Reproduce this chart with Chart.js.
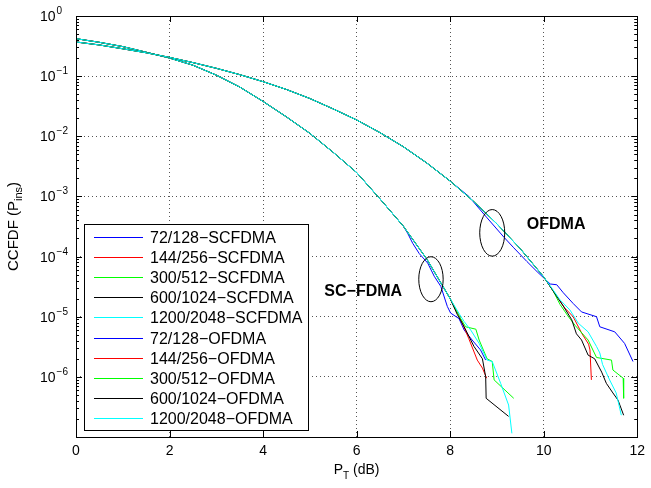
<!DOCTYPE html>
<html lang="en">
<head>
    <meta charset="UTF-8">
    <title>CCDF SC-FDMA vs OFDMA</title>
    <script src="https://cdn.jsdelivr.net/npm/chart.js"></script>
    <style>
        html, body { margin: 0; padding: 0; background: #fff; }
        #wrap { width: 651px; height: 488px; }
    </style>
</head>
<body>
    <div id="wrap"><canvas id="ccdfChart" width="651" height="488"></canvas></div>

    <script>
        // labels / colours (MATLAB b, r, g, k, c)
        const sizes = ['72/128', '144/256', '300/512', '600/1024', '1200/2048'];
        const colors = ['#0000ff', '#ff0000', '#00ff00', '#000000', '#00ffff'];

        // y axis decades and x ticks
        const yTickExp = [0, -1, -2, -3, -4, -5, -6, -7];
        const yLabelExp = [0, -1, -2, -3, -4, -5, -6];
        const xTicks = [0, 2, 4, 6, 8, 10, 12];

        // SC-FDMA, part where the five curves lie on top of each other
        const scX = [0, 0.5, 1, 1.5, 2, 2.5, 3, 3.5, 4, 4.5, 5, 5.5, 6, 6.5, 7, 7.5, 8];
        const scY = [0.42, 0.365, 0.31, 0.25, 0.2, 0.152, 0.104, 0.066, 0.038, 0.021, 0.0112, 0.0054, 0.0025, 9.1e-4, 3.2e-4, 9.1e-5, 2e-5];
        // tails (blue leaves the bundle after x = 7)
        const scTailX = [
            [7.09, 7.2, 7.34, 7.52, 7.66, 7.8, 7.94, 8.01, 8.19, 8.3, 8.47, 8.65, 8.76],
            [8.2, 8.4, 8.58, 8.69, 8.78],
            [8.2, 8.33, 8.55, 8.62, 8.79, 8.9, 8.94, 9.36],
            [8.15, 8.3, 8.51, 8.69, 8.76, 8.77, 9.25],
            [8.2, 8.3, 8.44, 8.62, 8.79, 8.9, 9.08, 9.25, 9.32]
        ];
        const scTailY = [
            [2.45e-4, 1.66e-4, 1.12e-4, 7.8e-5, 4.7e-5, 3.2e-5, 1.48e-5, 1.15e-5, 9.3e-6, 6.0e-6, 4.1e-6, 2.8e-6, 1.9e-6],
            [1.0e-5, 4.3e-6, 1.9e-6, 1.4e-6, 9.5e-7],
            [1.0e-5, 6.8e-6, 6.2e-6, 4.1e-6, 2.0e-6, 1.8e-6, 8.9e-7, 4.4e-7],
            [1.1e-5, 6.8e-6, 3.2e-6, 2.0e-6, 1.0e-6, 4.4e-7, 2.2e-7],
            [1.1e-5, 8.3e-6, 6.0e-6, 3.6e-6, 1.9e-6, 1.8e-6, 7.8e-7, 3.4e-7, 1.15e-7]
        ];
        const scCut = [15, 17, 17, 17, 17]; // how many shared points each curve uses

        // OFDMA, shared part
        const ofX = [0, 0.5, 1, 1.5, 2, 2.5, 3, 3.5, 4, 4.5, 5, 5.5, 6, 6.5, 7, 7.5, 8, 8.5, 9, 9.5, 10];
        const ofY = [0.37, 0.33, 0.285, 0.245, 0.205, 0.168, 0.135, 0.106, 0.081, 0.06, 0.0425, 0.0285, 0.0187, 0.0115, 0.0067, 0.0036, 0.0018, 8.3e-4, 3.5e-4, 1.35e-4, 4.6e-5];
        const ofTailX = [
            [8.4, 8.79, 9.15, 9.36, 9.64, 9.86, 10.14, 10.28, 10.42, 10.63, 10.81, 11.13, 11.2, 11.52, 11.73, 11.91],
            [10.2, 10.45, 10.63, 10.82, 10.96, 10.99, 11.02],
            [10.2, 10.35, 10.53, 10.67, 10.95, 11.13, 11.45, 11.48, 11.7, 11.71],
            [10.2, 10.42, 10.6, 10.7, 10.81, 10.95, 11.09, 11.24, 11.34, 11.48, 11.59, 11.71],
            [10.2, 10.35, 10.56, 10.74, 10.95, 11.13, 11.2, 11.26, 11.41, 11.55, 11.66]
        ];
        const ofTailY = [
            [1.0e-3, 4.4e-4, 2.1e-4, 1.4e-4, 8.3e-5, 5.6e-5, 3.5e-5, 3.4e-5, 2.5e-5, 1.66e-5, 1.2e-5, 1.0e-5, 6.8e-6, 5.6e-6, 3.6e-6, 1.8e-6],
            [2.7e-5, 1.4e-5, 1.0e-5, 5.2e-6, 3.5e-6, 2.8e-6, 8.9e-7],
            [2.7e-5, 1.6e-5, 1.0e-5, 7.2e-6, 4.1e-6, 2.1e-6, 1.9e-6, 1.3e-6, 9.5e-7, 4.4e-7],
            [2.7e-5, 1.5e-5, 8.9e-6, 5.2e-6, 4.1e-6, 2.3e-6, 2.0e-6, 1.2e-6, 7.8e-7, 5.4e-7, 4.1e-7, 2.3e-7],
            [2.8e-5, 1.9e-5, 1.3e-5, 7.8e-6, 5.6e-6, 3.2e-6, 2.5e-6, 1.6e-6, 8.9e-7, 5.4e-7, 2.3e-7]
        ];
        const ofCut = [17, 21, 21, 21, 21];

        // annotations (data coords)
        const ellipses = [
            { x: 7.59, y: 4.2e-5, rx: 12.2, ry: 22.5 },
            { x: 8.9, y: 2.48e-4, rx: 12.5, ry: 23.3 }
        ];
        const notes = [
            { text: 'SC\u2212FDMA', x: 5.31, y: 2.2e-5 },
            { text: 'OFDMA', x: 9.64, y: 2.9e-4 }
        ];

        const FONT = '"Liberation Sans", Arial, Helvetica, sans-serif';

        function buildSeries(hx, hy, cut, tx, ty) {
            const pts = [];
            for (let i = 0; i < cut; i++) pts.push({ x: hx[i], y: hy[i] });
            for (let i = 0; i < tx.length; i++) pts.push({ x: tx[i], y: ty[i] });
            return pts;
        }

        const datasets = [];
        sizes.forEach((s, i) => {
            datasets.push({ label: s + '\u2212SCFDMA', data: buildSeries(scX, scY, scCut[i], scTailX[i], scTailY[i]), borderColor: colors[i] });
        });
        sizes.forEach((s, i) => {
            datasets.push({ label: s + '\u2212OFDMA', data: buildSeries(ofX, ofY, ofCut[i], ofTailX[i], ofTailY[i]), borderColor: colors[i] });
        });
        // later series drawn on top, like MATLAB
        datasets.forEach((d, i) => { d.order = datasets.length - i; });

        // frame, inner ticks, legend, labels
        const matlabAxes = {
            id: 'matlabAxes',
            afterDraw(chart) {
                const ctx = chart.ctx;
                const a = chart.chartArea;
                const xs = chart.scales.x, ys = chart.scales.y;
                ctx.save();
                ctx.strokeStyle = '#000';
                ctx.lineWidth = 1;

                // ticks pointing inward
                ctx.beginPath();
                xTicks.forEach(v => {
                    const px = Math.round(xs.getPixelForValue(v)) + 0.5;
                    ctx.moveTo(px, a.bottom); ctx.lineTo(px, a.bottom - 6);
                    ctx.moveTo(px, a.top); ctx.lineTo(px, a.top + 6);
                });
                yTickExp.forEach(e => {
                    const py = Math.round(ys.getPixelForValue(Math.pow(10, e))) + 0.5;
                    ctx.moveTo(a.left, py); ctx.lineTo(a.left + 6, py);
                    ctx.moveTo(a.right, py); ctx.lineTo(a.right - 6, py);
                    if (e > -7) {
                        for (let m = 2; m <= 9; m++) {
                            const q = Math.round(ys.getPixelForValue(m * Math.pow(10, e - 1))) + 0.5;
                            ctx.moveTo(a.left, q); ctx.lineTo(a.left + 3, q);
                            ctx.moveTo(a.right, q); ctx.lineTo(a.right - 3, q);
                        }
                    }
                });
                ctx.stroke();

                // box
                ctx.strokeRect(Math.round(a.left) + 0.5, Math.round(a.top) + 0.5,
                    Math.round(a.right - a.left), Math.round(a.bottom - a.top));

                // y tick labels 10^n
                ctx.fillStyle = '#000';
                ctx.textBaseline = 'alphabetic';
                ctx.textAlign = 'left';
                yLabelExp.forEach(e => {
                    const py = ys.getPixelForValue(Math.pow(10, e));
                    ctx.font = '14px ' + FONT;
                    ctx.fillText('10', 40, py + 5);
                    const w = ctx.measureText('10').width;
                    ctx.font = '10px ' + FONT;
                    ctx.fillText(e < 0 ? '\u2212' + (-e) : String(e), 40 + w + 1, py - 2);
                });

                // x title  P_T (dB)
                ctx.font = '14px ' + FONT;
                const wP = ctx.measureText('P').width;
                const wR = ctx.measureText(' (dB)').width;
                ctx.font = '10px ' + FONT;
                const wT = ctx.measureText('T').width;
                let x0 = (a.left + a.right) / 2 - (wP + wT + wR) / 2;
                ctx.font = '14px ' + FONT;
                ctx.fillText('P', x0, 474);
                ctx.font = '10px ' + FONT;
                ctx.fillText('T', x0 + wP, 479);
                ctx.font = '14px ' + FONT;
                ctx.fillText(' (dB)', x0 + wP + wT, 474);

                // y title  CCFDF (P_ins)
                ctx.save();
                ctx.translate(18, (a.top + a.bottom) / 2);
                ctx.rotate(-Math.PI / 2);
                ctx.font = '15px ' + FONT;
                const w1 = ctx.measureText('CCFDF (P').width;
                const w3 = ctx.measureText(')').width;
                ctx.font = '11px ' + FONT;
                const w2 = ctx.measureText('ins').width;
                let s0 = -(w1 + w2 + w3) / 2;
                ctx.font = '15px ' + FONT;
                ctx.fillText('CCFDF (P', s0, 0);
                ctx.font = '11px ' + FONT;
                ctx.fillText('ins', s0 + w1, 4);
                ctx.font = '15px ' + FONT;
                ctx.fillText(')', s0 + w1 + w2, 0);
                ctx.restore();

                // ellipses and group names
                ellipses.forEach(el => {
                    ctx.beginPath();
                    ctx.ellipse(xs.getPixelForValue(el.x), ys.getPixelForValue(el.y), el.rx, el.ry, 0, 0, 2 * Math.PI);
                    ctx.stroke();
                });
                ctx.font = 'bold 16px ' + FONT;
                notes.forEach(n => ctx.fillText(n.text, xs.getPixelForValue(n.x), ys.getPixelForValue(n.y)));

                // legend box
                const lx = 84, ly = 224, lw = 224, lh = 206;
                ctx.fillStyle = '#fff';
                ctx.fillRect(lx, ly, lw, lh);
                ctx.strokeRect(lx + 0.5, ly + 0.5, lw, lh);
                ctx.font = '16px ' + FONT;
                chart.data.datasets.forEach((d, i) => {
                    const cy = Math.round(236.7 + i * 20.18) + 0.5;
                    ctx.strokeStyle = d.borderColor;
                    ctx.beginPath();
                    ctx.moveTo(94, cy); ctx.lineTo(143, cy);
                    ctx.stroke();
                    ctx.fillStyle = '#000';
                    ctx.fillText(d.label, 150, cy + 5.5);
                });
                ctx.restore();
            }
        };

        const ctx = document.getElementById('ccdfChart').getContext('2d');
        const ccdfChart = new Chart(ctx, {
            type: 'line',
            data: { datasets: datasets },
            options: {
                responsive: false,
                animation: false,
                layout: { padding: { top: 16, right: 10, left: 0, bottom: 0 } },
                elements: {
                    point: { radius: 0 },
                    line: { borderWidth: 1, tension: 0, fill: false }
                },
                plugins: {
                    legend: { display: false },
                    tooltip: { enabled: false }
                },
                scales: {
                    x: {
                        type: 'linear',
                        min: 0,
                        max: 12,
                        ticks: {
                            stepSize: 2,
                            color: '#000',
                            padding: 6,
                            maxRotation: 0,
                            font: { family: FONT, size: 14 }
                        },
                        grid: { color: '#555', lineWidth: 1, drawTicks: false },
                        border: { display: false, dash: [1, 3] },
                        afterFit: s => { s.height = 51; }
                    },
                    y: {
                        type: 'logarithmic',
                        min: 1e-7,
                        max: 1,
                        ticks: { display: false },
                        afterBuildTicks: s => {
                            s.ticks = yTickExp.map(e => ({ value: Math.pow(10, e) }));
                        },
                        grid: { color: '#555', lineWidth: 1, drawTicks: false },
                        border: { display: false, dash: [1, 3] },
                        afterFit: s => { s.width = 76; }
                    }
                }
            },
            plugins: [matlabAxes]
        });
    </script>
</body>
</html>
